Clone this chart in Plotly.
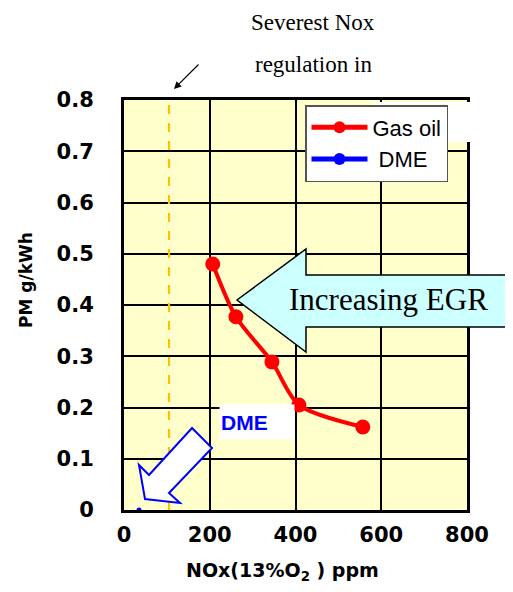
import plotly.graph_objects as go

# ---- data ----
gas_oil_nox = [207, 261, 345, 408, 557]
gas_oil_pm = [0.48, 0.377, 0.289, 0.205, 0.162]
dme_nox = [35]
dme_pm = [0.0]
regulation_nox = 105
x_ticks = [0, 200, 400, 600, 800]
y_ticks = [0, 0.1, 0.2, 0.3, 0.4, 0.5, 0.6, 0.7, 0.8]
y_tick_labels = ["0", "0.1", "0.2", "0.3", "0.4", "0.5", "0.6", "0.7", "0.8"]

# layout geometry (pixels, target picture)
W, H = 513, 592
OFF = 8  # page body margin
L, R, T, B = 124, 46, 100, 82
PW, PH = W - L - R, H - T - B


def px(xp, yp):
    return (xp - L) / PW, (H - B - yp) / PH


fig = go.Figure()

fig.add_trace(go.Scatter(
    x=[regulation_nox, regulation_nox], y=[0, 0.8], mode="lines",
    line=dict(color="#FFC000", width=2.2, dash="dash"),
    showlegend=False, hoverinfo="skip"))

fig.add_trace(go.Scatter(
    x=gas_oil_nox, y=gas_oil_pm, mode="lines+markers", name="Gas oil",
    line=dict(color="#FF0000", width=4, shape="spline", smoothing=0.8),
    marker=dict(color="#FF0000", size=15)))

fig.add_trace(go.Scatter(
    x=dme_nox, y=dme_pm, mode="lines+markers", name=" DME",
    line=dict(color="#0000FF", width=4),
    marker=dict(color="#0000FF", size=5), cliponaxis=False))

shapes = []
x0, y0 = px(373, 142)
x1, y1 = px(470, 102)
shapes.append(dict(type="rect", xref="paper", yref="paper", x0=x0, y0=y0, x1=x1, y1=y1,
                   fillcolor="white", line=dict(width=0), layer="above"))


def path(points):
    pts = [px(a, b) for a, b in points]
    return "M " + " L ".join(f"{a:.4f},{b:.4f}" for a, b in pts) + " Z"


egr = [(237, 300), (306, 249), (306, 275), (525, 275), (525, 327), (306, 327), (306, 352)]
shapes.append(dict(type="path", xref="paper", yref="paper", path=path(egr),
                   fillcolor="#CCFFFF", line=dict(color="black", width=1.5), layer="above"))

dme_arrow = [(145, 499), (139, 465), (149, 475), (192, 428), (212, 448), (169, 493), (180, 503)]
shapes.append(dict(type="path", xref="paper", yref="paper", path=path(dme_arrow),
                   fillcolor="white", line=dict(color="#0000FF", width=2), layer="above"))

annotations = []


def txt(xp, yp, text, font, **kw):
    ax_, ay_ = px(xp, yp)
    d = dict(x=ax_, y=ay_, xref="paper", yref="paper", text=text, showarrow=False,
             xanchor="center", yanchor="middle", font=font)
    d.update(kw)
    annotations.append(d)


serif = dict(family="Liberation Serif", size=23, color="black")
txt(313, 22, "Severest Nox", serif)
txt(313, 65, "regulation in", serif)
ax_, ay_ = px(174, 89)
annotations.append(dict(x=ax_, y=ay_, xref="paper", yref="paper", text="", showarrow=True,
                        ax=26, ay=-26, arrowhead=2, arrowsize=1.2, arrowwidth=1.2, arrowcolor="black"))
txt(388, 299, "Increasing EGR", dict(family="Liberation Serif", size=31, color="black"))
txt(257, 422, "<b>DME</b>", dict(family="Liberation Sans", size=21, color="#0000FF"),
    width=72, height=32, bgcolor="white", align="left")
txt(282, 571, "<b>NOx(13%O<sub>2</sub> ) ppm</b>", dict(family="DejaVu Sans", size=19, color="black"))
txt(26, 280, "<b>PM g/kWh</b>", dict(family="DejaVu Sans", size=17, color="black"), textangle=-90)

fig.update_layout(
    width=W - OFF, height=H - OFF,
    margin=dict(l=L - OFF, r=R, t=T - OFF, b=B, autoexpand=False),
    paper_bgcolor="white", plot_bgcolor="#FFFFCC",
    shapes=shapes, annotations=annotations,
    legend=dict(x=(305 - L) / PW, y=(H - B - 105) / PH, xanchor="left", yanchor="top",
                bgcolor="white", bordercolor="#555555", borderwidth=1.5,
                font=dict(family="Liberation Sans", size=22, color="black"),
                itemsizing="constant", itemwidth=56, tracegroupgap=0),
    xaxis=dict(range=[0, 800], tickvals=x_ticks, showgrid=True, gridcolor="black", gridwidth=1.5,
               zeroline=False, showline=True, linecolor="black", linewidth=3, mirror=True,
               ticks="", ticklabelstandoff=4,
               tickfont=dict(family="DejaVu Sans", size=21, color="black", weight="bold")),
    yaxis=dict(range=[0, 0.8], tickvals=y_ticks, ticktext=y_tick_labels, showgrid=True,
               gridcolor="black", gridwidth=1.5, zeroline=False, showline=True,
               linecolor="black", linewidth=3, mirror=True, ticks="", ticklabelstandoff=23,
               tickfont=dict(family="DejaVu Sans", size=21, color="black", weight="bold")),
)

fig.write_html("out.html")
